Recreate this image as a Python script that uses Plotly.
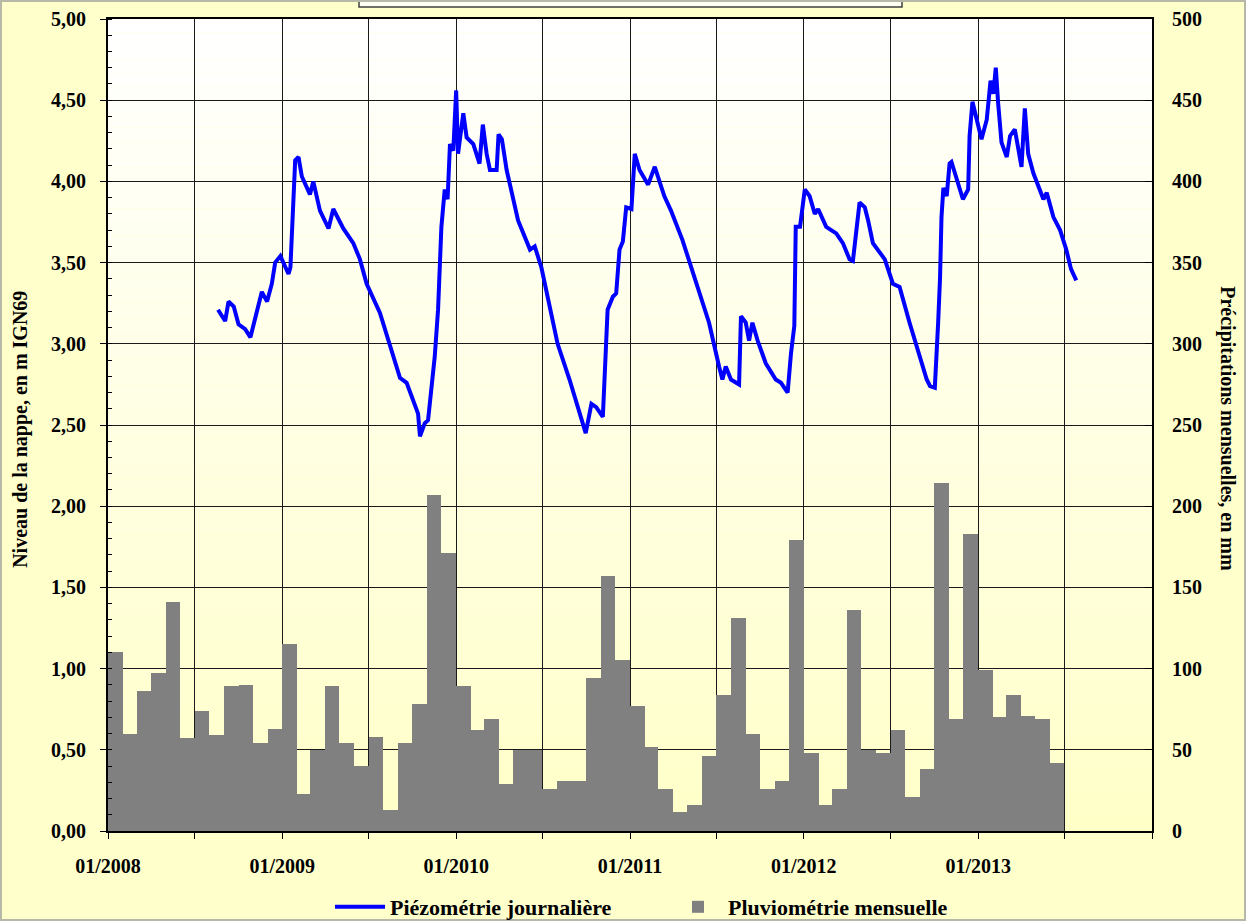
import pandas as pd
import plotly.graph_objects as go

# ---------------- data ----------------
rain_2008 = [110, 60, 86, 97, 141, 57, 74, 59, 89, 90, 54, 63]
rain_2009 = [115, 23, 50, 89, 54, 40, 58, 13, 54, 78, 207, 171]
rain_2010 = [89, 62, 69, 29, 50, 50, 26, 31, 31, 94, 157, 105]
rain_2011 = [77, 52, 26, 12, 16, 46, 84, 131, 60, 26, 31, 179]
rain_2012 = [48, 16, 26, 136, 50, 48, 62, 21, 38, 214, 69, 183]
rain_2013 = [99, 70, 84, 71, 69, 42]
rain_mm = rain_2008 + rain_2009 + rain_2010 + rain_2011 + rain_2012 + rain_2013

piezo_dates = [
    "2008-08-19", "2008-09-03", "2008-09-10", "2008-09-21", "2008-10-01", "2008-10-15",
    "2008-10-26", "2008-11-05", "2008-11-19", "2008-11-30", "2008-12-10", "2008-12-17",
    "2008-12-28", "2009-01-14", "2009-01-18", "2009-01-28", "2009-02-04", "2009-02-11",
    "2009-02-28", "2009-03-07", "2009-03-21", "2009-04-08", "2009-04-18", "2009-05-09",
    "2009-05-30", "2009-06-13", "2009-06-27", "2009-07-25", "2009-08-18", "2009-09-05",
    "2009-09-19", "2009-10-13", "2009-10-17", "2009-10-27", "2009-11-03", "2009-11-17",
    "2009-11-24", "2009-12-01", "2009-12-08", "2009-12-14", "2009-12-19", "2009-12-26",
    "2010-01-01", "2010-01-05", "2010-01-16", "2010-01-23", "2010-02-06", "2010-02-19",
    "2010-02-26", "2010-03-06", "2010-03-13", "2010-03-27", "2010-03-31", "2010-04-07",
    "2010-04-17", "2010-05-01", "2010-05-11", "2010-06-05", "2010-06-15", "2010-06-29",
    "2010-08-02", "2010-08-27", "2010-09-17", "2010-09-30", "2010-10-12", "2010-10-22",
    "2010-11-05", "2010-11-15", "2010-11-26", "2010-12-03", "2010-12-10", "2010-12-17",
    "2010-12-24", "2011-01-04", "2011-01-11", "2011-01-21", "2011-02-08", "2011-02-22",
    "2011-03-14", "2011-03-28", "2011-04-21", "2011-05-19", "2011-06-16", "2011-07-07",
    "2011-07-14", "2011-07-21", "2011-08-01", "2011-08-18", "2011-08-22", "2011-09-01",
    "2011-09-08", "2011-09-15", "2011-09-26", "2011-10-13", "2011-10-27", "2011-11-03",
    "2011-11-14", "2011-11-28", "2011-12-05", "2011-12-12", "2011-12-15", "2011-12-24",
    "2012-01-03", "2012-01-13", "2012-01-24", "2012-01-31", "2012-02-17", "2012-03-09",
    "2012-03-23", "2012-04-06", "2012-04-13", "2012-04-27", "2012-05-08", "2012-05-15",
    "2012-05-25", "2012-06-19", "2012-07-06", "2012-07-20", "2012-08-10", "2012-08-28",
    "2012-09-15", "2012-09-22", "2012-10-02", "2012-10-09", "2012-10-13", "2012-10-16",
    "2012-10-20", "2012-10-27", "2012-11-02", "2012-11-06", "2012-11-16", "2012-11-30",
    "2012-12-11", "2012-12-14", "2012-12-20", "2012-12-28", "2013-01-08", "2013-01-19",
    "2013-01-27", "2013-02-02", "2013-02-07", "2013-02-12", "2013-02-19", "2013-03-02",
    "2013-03-09", "2013-03-19", "2013-03-26", "2013-04-02", "2013-04-09", "2013-04-16",
    "2013-04-27", "2013-05-11", "2013-05-18", "2013-05-25", "2013-06-08", "2013-06-22",
    "2013-07-05", "2013-07-15", "2013-07-26",
]
piezo_levels = [
    3.21, 3.14, 3.26, 3.23, 3.12, 3.09,
    3.04, 3.15, 3.32, 3.26, 3.37, 3.50,
    3.54, 3.43, 3.47, 4.13, 4.15, 4.03,
    3.92, 4.00, 3.82, 3.71, 3.83, 3.71,
    3.62, 3.52, 3.37, 3.19, 2.96, 2.79,
    2.76, 2.57, 2.43, 2.51, 2.53, 2.92,
    3.21, 3.72, 3.95, 3.89, 4.23, 4.19,
    4.56, 4.17, 4.42, 4.27, 4.23, 4.11,
    4.35, 4.17, 4.07, 4.07, 4.29, 4.26,
    4.07, 3.89, 3.76, 3.58, 3.60, 3.47,
    3.00, 2.78, 2.57, 2.45, 2.63, 2.61,
    2.55, 3.21, 3.29, 3.31, 3.58, 3.63,
    3.84, 3.83, 4.17, 4.07, 3.98, 4.09,
    3.91, 3.82, 3.64, 3.39, 3.13, 2.86,
    2.78, 2.86, 2.78, 2.75, 3.17, 3.13,
    3.02, 3.13, 3.02, 2.88, 2.82, 2.78,
    2.76, 2.70, 2.94, 3.11, 3.72, 3.72,
    3.95, 3.91, 3.80, 3.83, 3.72, 3.68,
    3.62, 3.52, 3.51, 3.87, 3.84, 3.76,
    3.62, 3.52, 3.37, 3.35, 3.13, 2.96,
    2.78, 2.74, 2.73, 3.13, 3.41, 3.78,
    3.96, 3.91, 4.11, 4.12, 4.03, 3.89,
    3.95, 4.28, 4.49, 4.40, 4.26, 4.38,
    4.62, 4.54, 4.70, 4.48, 4.24, 4.15,
    4.28, 4.32, 4.21, 4.09, 4.45, 4.17,
    4.05, 3.95, 3.89, 3.93, 3.78, 3.70,
    3.58, 3.46, 3.39,
]

tick_dates = ["2008-01-01", "2009-01-01", "2010-01-01", "2011-01-01", "2012-01-01", "2013-01-01"]
tick_labels = ["01/2008", "01/2009", "01/2010", "01/2011", "01/2012", "01/2013"]

series_names = ["Piézométrie journalière", "Pluviométrie mensuelle"]
left_title = "Niveau de la nappe, en m IGN69"
right_title = "Précipitations mensuelles, en mm"

# ---------------- derived bar geometry (monthly bars) ----------------
month_start = pd.date_range("2008-01-01", periods=len(rain_mm), freq="MS")
month_end = month_start + pd.offsets.MonthBegin(1)
bar_centers = month_start + (month_end - month_start) / 2
bar_widths = [(e - s).total_seconds() * 1000 for s, e in zip(month_start, month_end)]

FONT = "Liberation Serif"
BG = "#FFFFCC"

fig = go.Figure()
fig.add_trace(go.Bar(
    x=bar_centers, y=rain_mm, width=bar_widths, yaxis="y2",
    name=series_names[1], marker=dict(color="#808080", line=dict(width=0)),
))
fig.add_trace(go.Scatter(
    x=pd.to_datetime(piezo_dates), y=piezo_levels, mode="lines",
    name=series_names[0], line=dict(color="#0000FF", width=4),
))

# gradient plot background (white at top -> pale yellow at bottom)
shapes = []
n = 60
for i in range(n):
    f = (i + 0.5) / n
    b = int(round(200 + (255 - 200) * f))
    shapes.append(dict(type="rect", xref="paper", yref="paper", x0=0, x1=1,
                       y0=i / n, y1=(i + 1) / n, layer="below",
                       fillcolor=f"rgb(255,255,{b})", line=dict(width=0)))
# title box partially visible at the top
shapes.append(dict(type="rect", xref="paper", yref="paper",
                   x0=(359 - 108) / 1044, x1=(902 - 108) / 1044,
                   y0=1 + (19 - 7) / 812, y1=1 + 40 / 812,
                   fillcolor="#FFFFF2", line=dict(color="#404040", width=1.5), layer="above"))
# outer frame
shapes.append(dict(type="rect", xref="paper", yref="paper",
                   x0=-107 / 1044, x1=1 + 93 / 1044, y0=-89 / 812, y1=1 + 18 / 812,
                   fillcolor="rgba(0,0,0,0)", line=dict(color="#B8B8A8", width=2), layer="above"))

tick_font = dict(family=FONT, size=20, color="#000000", weight="bold")

fig.update_layout(
    width=1246, height=921,
    margin=dict(l=108, r=94, t=19, b=90, autoexpand=False),
    paper_bgcolor=BG, plot_bgcolor="rgb(255,255,200)",
    separators=", ",
    bargap=0, barmode="overlay",
    shapes=shapes,
    showlegend=True,
    legend=dict(orientation="h", x=(330 - 108) / 1044, xanchor="left", y=-0.0936,
                yanchor="middle",
                font=dict(family=FONT, size=22, color="#000000", weight="bold"),
                bgcolor="rgba(0,0,0,0)", traceorder="reversed", itemwidth=50,
                entrywidth=273),
    xaxis=dict(
        type="date", range=["2008-01-01", "2014-01-01"], automargin=False,
        tickmode="array", tickvals=tick_dates, ticktext=tick_labels,
        ticks="outside", ticklen=6, tickcolor="#000000", tickwidth=1,
        ticklabelstandoff=10,
        showgrid=True, gridcolor="#1a1a1a", gridwidth=1,
        minor=dict(tickmode="linear", tick0="2008-01-01", dtick="M6", showgrid=True,
                   gridcolor="#1a1a1a", gridwidth=1, ticks="outside", ticklen=6,
                   tickcolor="#000000"),
        showline=True, linecolor="#000000", linewidth=2, mirror=True,
        tickfont=tick_font, zeroline=False,
    ),
    yaxis=dict(
        range=[0, 5], dtick=0.5, tick0=0, tickformat=".2f", automargin=False,
        ticks="outside", ticklen=6, tickcolor="#000000",
        ticklabelstandoff=10,
        minor=dict(dtick=0.1, ticks="inside", ticklen=4, tickcolor="#000000", showgrid=False),
        showgrid=True, gridcolor="#1a1a1a", gridwidth=1,
        showline=True, linecolor="#000000", linewidth=2, mirror=True,
        tickfont=tick_font, zeroline=False,
    ),
    yaxis2=dict(
        range=[0, 500], dtick=50, tick0=0, tickformat="d", automargin=False,
        overlaying="y", side="right",
        ticks="inside", ticklen=7, tickcolor="#000000",
        ticklabelstandoff=14,
        showgrid=False, showline=True, linecolor="#000000", linewidth=2,
        tickfont=tick_font, zeroline=False,
    ),
    annotations=[
        dict(text=left_title, xref="paper", yref="paper", x=(21 - 108) / 1044, y=0.494,
             xanchor="center", yanchor="middle", textangle=-90, showarrow=False,
             font=dict(family=FONT, size=20, color="#000000", weight="bold")),
        dict(text=right_title, xref="paper", yref="paper", x=(1228 - 108) / 1044, y=0.496,
             xanchor="center", yanchor="middle", textangle=90, showarrow=False,
             font=dict(family=FONT, size=20, color="#000000", weight="bold")),
    ],
)

fig.write_html(
    "out.html",
    config={"displayModeBar": False},
    post_script="document.body.style.margin='0';document.body.style.padding='0';"
                "document.body.style.overflow='hidden';",
)
